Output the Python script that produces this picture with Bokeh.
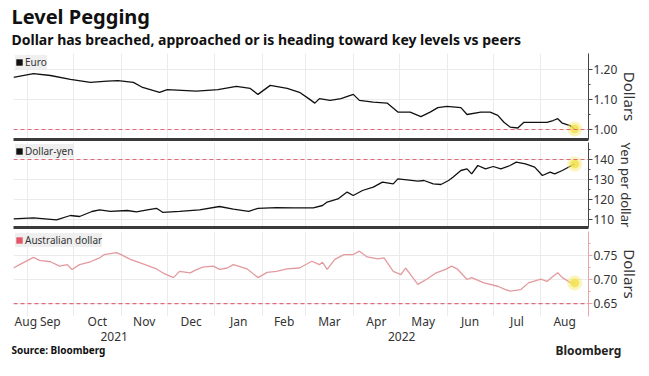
import pandas as pd
from bokeh.plotting import figure
from bokeh.layouts import column
from bokeh.models import (Range1d, LinearAxis, FixedTicker, Span, Legend, LegendItem,
                          Title, PrintfTickFormatter, ColumnDataSource)
from bokeh.embed import file_html
from bokeh.resources import INLINE

TITLE = "Level Pegging"
SUBTITLE = "Dollar has breached, approached or is heading toward key levels vs peers"
SOURCE = "Source: Bloomberg"
BRAND = "Bloomberg"

series_names = ["Euro", "Dollar-yen", "Australian dollar"]
axis_titles = ["Dollars", "Yen per dollar", "Dollars"]
key_levels = [1.00, 140, 0.65]

euro_dates = ["2021-08-23", "2021-09-05", "2021-09-16", "2021-09-29", "2021-10-12", "2021-10-23",
              "2021-10-30", "2021-11-09", "2021-11-15", "2021-11-26", "2021-12-01", "2021-12-20",
              "2022-01-03", "2022-01-15", "2022-01-24", "2022-01-29", "2022-02-06", "2022-02-17",
              "2022-02-25", "2022-03-03", "2022-03-07", "2022-03-10", "2022-03-17", "2022-03-24",
              "2022-04-01", "2022-04-05", "2022-04-14", "2022-04-23", "2022-04-30", "2022-05-08",
              "2022-05-15", "2022-05-21", "2022-05-26", "2022-06-01", "2022-06-10", "2022-06-14",
              "2022-06-23", "2022-06-29", "2022-07-04", "2022-07-08", "2022-07-12", "2022-07-17",
              "2022-07-21", "2022-07-28", "2022-08-05", "2022-08-09", "2022-08-12", "2022-08-15",
              "2022-08-20", "2022-08-23"]
euro_values = [1.174, 1.186, 1.180, 1.167, 1.157, 1.161,
               1.163, 1.157, 1.140, 1.124, 1.133, 1.128,
               1.133, 1.144, 1.137, 1.117, 1.147, 1.137,
               1.124, 1.103, 1.088, 1.103, 1.097, 1.103,
               1.117, 1.097, 1.091, 1.088, 1.058, 1.058,
               1.043, 1.058, 1.073, 1.077, 1.073, 1.050,
               1.058, 1.058, 1.047, 1.024, 1.008, 1.005,
               1.024, 1.024, 1.024, 1.030, 1.036, 1.021,
               1.013, 1.002]

yen_dates = ["2021-08-23", "2021-09-05", "2021-09-20", "2021-09-29", "2021-10-05", "2021-10-13",
             "2021-10-18", "2021-10-25", "2021-11-05", "2021-11-11", "2021-11-18", "2021-11-24",
             "2021-11-28", "2021-12-09", "2021-12-22", "2022-01-04", "2022-01-13", "2022-01-23",
             "2022-01-29", "2022-02-10", "2022-02-21", "2022-03-06", "2022-03-12", "2022-03-15",
             "2022-03-22", "2022-03-28", "2022-04-01", "2022-04-07", "2022-04-14", "2022-04-20",
             "2022-04-27", "2022-04-30", "2022-05-06", "2022-05-13", "2022-05-17", "2022-05-23",
             "2022-05-28", "2022-06-02", "2022-06-05", "2022-06-10", "2022-06-14", "2022-06-17",
             "2022-06-21", "2022-06-26", "2022-07-01", "2022-07-06", "2022-07-12", "2022-07-16",
             "2022-07-22", "2022-07-28", "2022-08-02", "2022-08-07", "2022-08-10", "2022-08-15",
             "2022-08-21", "2022-08-23"]
yen_values = [110.3, 110.8, 109.8, 112.0, 111.5, 114.0,
              114.8, 114.1, 114.5, 113.8, 114.8, 115.6,
              113.6, 114.1, 114.8, 116.5, 115.2, 114.1,
              115.6, 115.9, 115.8, 115.8, 117.0, 118.7,
              120.3, 123.7, 122.0, 124.5, 126.2, 128.7,
              127.8, 130.3, 129.8, 129.2, 129.5, 127.8,
              127.5, 129.5, 131.2, 134.5, 135.3, 132.8,
              137.0, 135.3, 136.5, 135.3, 137.0, 138.7,
              137.8, 136.2, 132.0, 133.7, 132.8, 134.5,
              137.0, 137.8]

aud_dates = ["2021-08-23", "2021-08-27", "2021-09-05", "2021-09-09", "2021-09-16", "2021-09-22",
             "2021-09-27", "2021-09-30", "2021-10-05", "2021-10-12", "2021-10-18", "2021-10-21",
             "2021-10-29", "2021-11-01", "2021-11-07", "2021-11-13", "2021-11-24", "2021-11-28",
             "2021-12-05", "2021-12-09", "2021-12-16", "2021-12-19", "2021-12-24", "2021-12-31",
             "2022-01-04", "2022-01-09", "2022-01-13", "2022-01-22", "2022-01-29", "2022-02-04",
             "2022-02-10", "2022-02-17", "2022-02-25", "2022-03-05", "2022-03-10", "2022-03-12",
             "2022-03-15", "2022-03-20", "2022-03-26", "2022-04-01", "2022-04-05", "2022-04-10",
             "2022-04-17", "2022-04-21", "2022-04-27", "2022-05-02", "2022-05-05", "2022-05-09",
             "2022-05-13", "2022-05-19", "2022-05-25", "2022-05-31", "2022-06-04", "2022-06-08",
             "2022-06-14", "2022-06-17", "2022-06-25", "2022-07-04", "2022-07-09", "2022-07-12",
             "2022-07-19", "2022-07-24", "2022-08-01", "2022-08-05", "2022-08-09", "2022-08-12",
             "2022-08-15", "2022-08-20", "2022-08-23"]
aud_values = [0.724, 0.731, 0.746, 0.740, 0.737, 0.728,
              0.731, 0.721, 0.731, 0.737, 0.745, 0.752,
              0.756, 0.752, 0.742, 0.735, 0.722, 0.714,
              0.704, 0.717, 0.714, 0.719, 0.726, 0.728,
              0.721, 0.724, 0.731, 0.722, 0.704, 0.715,
              0.717, 0.722, 0.724, 0.738, 0.731, 0.736,
              0.721, 0.742, 0.752, 0.752, 0.759, 0.747,
              0.743, 0.745, 0.717, 0.710, 0.724, 0.707,
              0.690, 0.701, 0.714, 0.721, 0.728, 0.721,
              0.700, 0.704, 0.693, 0.686, 0.679, 0.676,
              0.679, 0.693, 0.701, 0.696, 0.707, 0.714,
              0.704, 0.694, 0.693]

euro_ticks = [1.00, 1.10, 1.20]
yen_ticks = [110, 120, 130, 140]
aud_ticks = [0.65, 0.70, 0.75]
month_labels = ["Aug", "Sep", "Oct", "Nov", "Dec", "Jan", "Feb", "Mar", "Apr", "May", "Jun", "Jul", "Aug"]
year_labels = ["2021", "2022"]

X_START, X_END = "2021-08-23", "2022-09-01"


def ms(d):
    return int(pd.Timestamp(d).value // 10**6)


DAY = 86400000
xr = Range1d(ms(X_START), ms(X_END))

# month boundaries (grid) and label positions (centre of visible part of each month)
month_starts = list(pd.date_range("2021-08-01", "2022-09-01", freq="MS"))
grid_ticks = [ms(d) for d in month_starts if ms(X_START) < ms(d) < ms(X_END)]
label_ticks = []
for i in range(len(month_labels)):
    a = max(ms(month_starts[i]), ms(X_START))
    b = min(ms(month_starts[i + 1]), ms(X_END))
    c = (a + b) // 2
    c = max(c, ms(X_START) + 8 * DAY)
    label_ticks.append(int(c))
year_ticks = []
for yl in year_labels:
    a = max(ms(f"{yl}-01-01"), ms(X_START))
    b = min(ms(f"{int(yl)+1}-01-01"), ms(X_END))
    year_ticks.append(int((a + b) // 2))

GRID = "#ebebeb"
TXT = "#333333"
FONT = "Noto Sans"


def panel(dates, values, name, line_color, key_color, level, ticks, minor, fmt, yr,
          axis_label, label_size, axis_color, height, top, bottom, sep):
    p = figure(width=649, height=height, x_range=xr, y_range=Range1d(*yr),
               x_axis_location=None, y_axis_location="right",
               output_backend="svg", toolbar_location=None,
               min_border_left=13, min_border_right=61, min_border_top=top,
               min_border_bottom=bottom, outline_line_color=None)
    p.xgrid.ticker = FixedTicker(ticks=grid_ticks)
    p.xgrid.grid_line_color = GRID
    p.ygrid.grid_line_color = GRID

    ax = p.yaxis[0]
    ax.ticker = FixedTicker(ticks=ticks, minor_ticks=minor)
    ax.formatter = PrintfTickFormatter(format=fmt)
    ax.axis_label = axis_label
    ax.axis_label_text_font = FONT
    ax.axis_label_text_font_size = label_size
    ax.axis_label_text_font_style = "normal"
    ax.axis_label_text_color = TXT
    ax.axis_label_standoff = 0
    ax.major_label_text_font = FONT
    ax.major_label_text_font_size = "12px"
    ax.major_label_text_color = TXT
    ax.major_label_standoff = 1
    ax.major_tick_out = 4
    ax.major_tick_in = 0
    ax.minor_tick_out = 2
    ax.minor_tick_in = 0
    ax.axis_line_color = axis_color
    ax.major_tick_line_color = axis_color
    ax.minor_tick_line_color = axis_color

    p.add_layout(Span(location=level, dimension="width", line_color="#e06b78",
                      line_dash="4 3", line_width=1.2))

    src = ColumnDataSource(dict(x=pd.to_datetime(dates), y=values))
    p.line("x", "y", source=src, line_color=line_color, line_width=1.3)
    last = ColumnDataSource(dict(x=pd.to_datetime(dates[-1:]), y=values[-1:]))
    p.scatter("x", "y", source=last, size=15, fill_color="#f6e96a", fill_alpha=0.45, line_color=None)
    p.scatter("x", "y", source=last, size=9, fill_color="#f3e14a", fill_alpha=0.8, line_color=None)

    # zero-area quads on the series points: only used to give the legend a filled square key
    key = p.quad(left="x", right="x", top="y", bottom="y", source=src,
                 fill_color=key_color, line_color=None)
    leg = Legend(items=[LegendItem(label=name, renderers=[key])], location="top_left",
                 glyph_width=8, glyph_height=8, label_height=10, label_width=0, label_standoff=2,
                 label_text_font=FONT, label_text_font_size="10px", label_text_color=TXT,
                 padding=3, margin=2, spacing=0, background_fill_color="#efefef",
                 background_fill_alpha=1.0, border_line_color=None)
    p.add_layout(leg)

    if sep:
        s = LinearAxis(ticker=FixedTicker(ticks=[]), axis_line_width=3, axis_line_color="#3a3a3a",
                       major_tick_out=0, major_tick_in=0, minor_tick_out=0, minor_tick_in=0,
                       major_label_standoff=0, major_label_text_font_size="0px")
        p.add_layout(s, "below")
    return p


p1 = panel(euro_dates, euro_values, series_names[0], "#111111", "#111111", key_levels[0],
           euro_ticks, [1.05, 1.15], "%.2f", (0.9667, 1.2533), axis_titles[0], "15px", "#444444",
           142, 53, 3, True)
p2 = panel(yen_dates, yen_values, series_names[1], "#111111", "#111111", key_levels[1],
           yen_ticks, [115, 125, 135, 145], "%d", (106, 148.5), axis_titles[1], "13px", "#444444",
           88, 0, 3, True)
p3 = panel(aud_dates, aud_values, series_names[2], "#e39a9e", "#e4576a", key_levels[2],
           aud_ticks, [0.675, 0.725, 0.775], "%.2f", (0.623, 0.80), axis_titles[2], "15px", "#e8a4ab",
           146, 1, 60, False)

sub = Title(text=SUBTITLE, text_font=FONT, text_font_size="14px", text_font_style="bold",
            text_color="#111111", align="left", offset=-2, standoff=9)
ttl = Title(text=TITLE, text_font=FONT, text_font_size="20px", text_font_style="bold",
            text_color="#111111", align="left", offset=-2, standoff=-13)
p1.add_layout(sub, "above")
p1.add_layout(ttl, "above")

mx = LinearAxis(ticker=FixedTicker(ticks=label_ticks),
                major_label_overrides={t: l for t, l in zip(label_ticks, month_labels)},
                axis_line_color=None, major_tick_out=0, major_tick_in=0,
                minor_tick_out=0, minor_tick_in=0, major_label_standoff=-4,
                major_label_text_font=FONT, major_label_text_font_size="12px",
                major_label_text_color=TXT)
yx = LinearAxis(ticker=FixedTicker(ticks=year_ticks),
                major_label_overrides={t: l for t, l in zip(year_ticks, year_labels)},
                axis_line_color=None, major_tick_out=0, major_tick_in=0,
                minor_tick_out=0, minor_tick_in=0, major_label_standoff=-1,
                major_label_text_font=FONT, major_label_text_font_size="12px",
                major_label_text_color=TXT)
p3.add_layout(mx, "below")
p3.add_layout(yx, "below")

# footer: source note on the left, brand on the right, sharing one row
src_note = Title(text=SOURCE, text_font=FONT, text_font_size="10px", text_font_style="bold",
                 text_color="#111111", align="left", offset=-2, standoff=-2, vertical_align="top")
brand = Title(text=BRAND, text_font=FONT, text_font_size="12px", text_font_style="bold",
              text_color="#222222", align="left", offset=542, standoff=-32, vertical_align="top")
p3.add_layout(src_note, "below")
p3.add_layout(brand, "below")

layout = column(p1, p2, p3, spacing=0)
open("out.html", "w").write(file_html(layout, INLINE))
